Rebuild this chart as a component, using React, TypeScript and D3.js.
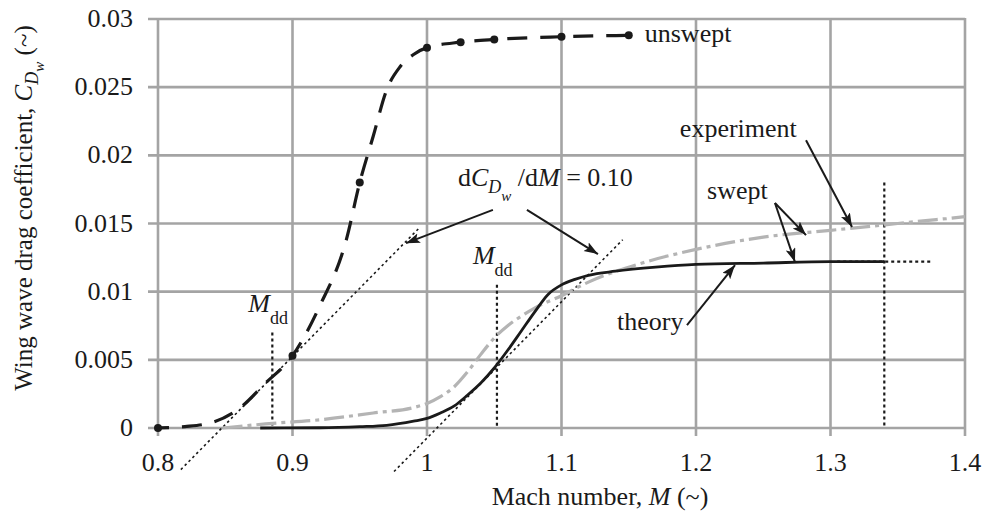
import React from "react";
import * as d3 from "d3";

// Wave drag of an unswept and a swept wing versus Mach number

const machTicks = [0.8, 0.9, 1.0, 1.1, 1.2, 1.3, 1.4];
const machTickLabels = ["0.8", "0.9", "1", "1.1", "1.2", "1.3", "1.4"];
const cdTicks = [0, 0.005, 0.01, 0.015, 0.02, 0.025, 0.03];
const cdTickLabels = ["0", "0.005", "0.01", "0.015", "0.02", "0.025", "0.03"];

// Unswept wing (dashed, with marked points)
const unsweptMach = [0.8, 0.82, 0.84, 0.86, 0.88, 0.9, 0.92, 0.94, 0.95, 0.96, 0.97, 0.98, 0.99, 1.0, 1.025, 1.05, 1.1, 1.15];
const unsweptCd = [0, 0.0001, 0.0004, 0.0014, 0.0033, 0.0053, 0.0089, 0.0138, 0.018, 0.0214, 0.0248, 0.0265, 0.0274, 0.0279, 0.0283, 0.0285, 0.0287, 0.0288];
const unsweptMarked = [true, false, false, false, false, true, false, false, true, false, false, false, false, true, true, true, true, true];

// Swept wing, theory (solid)
const theoryMach = [0.876, 0.92, 0.95, 0.97, 0.99, 1.0, 1.01, 1.02, 1.03, 1.04, 1.05, 1.06, 1.07, 1.08, 1.09, 1.1, 1.11, 1.12, 1.14, 1.17, 1.2, 1.25, 1.3, 1.34];
const theoryCd = [0, 0.00002, 0.0001, 0.0002, 0.0005, 0.0007, 0.0011, 0.0016, 0.0024, 0.0033, 0.0044, 0.0057, 0.0071, 0.0085, 0.0098, 0.0105, 0.0109, 0.0112, 0.0115, 0.0118, 0.012, 0.0121, 0.0122, 0.0122];

// Swept wing, experiment (dash-dot)
const expMach = [0.848, 0.88, 0.92, 0.96, 0.99, 1.0, 1.01, 1.02, 1.03, 1.04, 1.05, 1.06, 1.07, 1.08, 1.1, 1.12, 1.16, 1.2, 1.25, 1.3, 1.35, 1.4];
const expCd = [0, 0.0003, 0.0006, 0.0011, 0.0015, 0.0018, 0.0023, 0.003, 0.0041, 0.0054, 0.0066, 0.0075, 0.0082, 0.0088, 0.0097, 0.0107, 0.0121, 0.0131, 0.014, 0.0145, 0.015, 0.0155];

// Tangent lines of slope dCD/dM = 0.10
const tangentSlope = 0.1;
const tangentZeroMach = [0.8475, 1.0074];
const tangentFromMach = [0.817, 0.9755];
const tangentToMach = [0.995, 1.1455];

// Drag-divergence Mach numbers
const mddMach = [0.885, 1.052];
const mddTopCd = [0.007, 0.0105];

// Limit markers at the right end of the theory curve
const limitMach = 1.34;
const limitTopCd = 0.018;
const limitCd = 0.0122;
const limitFromMach = 1.305;
const limitToMach = 1.375;

// Annotation arrows [fromMach, fromCd, toMach, toCd]
const arrows: [number, number, number, number][] = [
  [1.049, 0.016, 0.9844, 0.01356],
  [1.0743, 0.016, 1.1271, 0.01276],
  [1.2818, 0.0211, 1.316, 0.01474],
  [1.2587, 0.0165, 1.2818, 0.01415],
  [1.2587, 0.0165, 1.2736, 0.01217],
  [1.1933, 0.00755, 1.229, 0.01195],
];

const W = 983;
const H = 515;
const FONT = "'Liberation Serif', 'Times New Roman', Times, serif";
const INK = "#1a1a1a";
const GRID = "#a4a4a4";
const FS = 26;

export default function App() {
  const x = d3.scaleLinear().domain([0.8, 1.4]).range([158, 965]);
  const y = d3.scaleLinear().domain([0, 0.03]).range([428, 19]);

  const line = d3
    .line<[number, number]>()
    .x((d) => x(d[0]))
    .y((d) => y(d[1]))
    .curve(d3.curveMonotoneX);

  const unsweptPts = unsweptMach.map((m, i) => [m, unsweptCd[i]] as [number, number]);
  const theoryPts = theoryMach.map((m, i) => [m, theoryCd[i]] as [number, number]);
  const expPts = expMach.map((m, i) => [m, expCd[i]] as [number, number]);

  const last = unsweptPts[unsweptPts.length - 1];

  return (
    <svg
      width={W}
      height={H}
      style={{ position: "absolute", left: 0, top: 0, background: "#fff" }}
      fontFamily={FONT}
      fill={INK}
    >
      <defs>
        <marker
          id="head"
          markerUnits="userSpaceOnUse"
          markerWidth={16}
          markerHeight={12}
          refX={14}
          refY={5}
          orient="auto"
        >
          <path d="M0,0 L14,5 L0,10 L3,5 Z" fill={INK} />
        </marker>
      </defs>

      {/* grid */}
      <g stroke={GRID} strokeWidth={2.6}>
        {cdTicks.map((t) => (
          <line key={"h" + t} x1={148} x2={x(1.4)} y1={y(t)} y2={y(t)} />
        ))}
        {machTicks.map((t) => (
          <line key={"v" + t} x1={x(t)} x2={x(t)} y1={y(0.03) - 1} y2={y(0) + 8} />
        ))}
      </g>

      {/* tick labels */}
      <g fontSize={FS}>
        {cdTicks.map((t, i) => (
          <text key={"yl" + t} x={133} y={y(t) + 8} textAnchor="end">
            {cdTickLabels[i]}
          </text>
        ))}
        {machTicks.map((t, i) => (
          <text key={"xl" + t} x={x(t)} y={471} textAnchor="middle">
            {machTickLabels[i]}
          </text>
        ))}
      </g>

      {/* axis titles */}
      <text x={600} y={505} fontSize={FS} textAnchor="middle">
        Mach number, <tspan fontStyle="italic">M</tspan> (~)
      </text>
      <text transform="translate(32,208) rotate(-90)" fontSize={25} textAnchor="middle">
        Wing wave drag coefficient,{" "}
        <tspan fontStyle="italic">C</tspan>
        <tspan fontStyle="italic" fontSize={18} dy={6}>D</tspan>
        <tspan fontStyle="italic" fontSize={15} dy={6}>w</tspan>
        <tspan dy={-12}> (~)</tspan>
      </text>

      {/* tangent lines */}
      <g stroke={INK} strokeWidth={1.6} strokeDasharray="2.5,3" fill="none">
        {tangentZeroMach.map((m0, i) => (
          <line
            key={"tg" + i}
            x1={x(tangentFromMach[i])}
            y1={y(tangentSlope * (tangentFromMach[i] - m0))}
            x2={x(tangentToMach[i])}
            y2={y(tangentSlope * (tangentToMach[i] - m0))}
          />
        ))}
      </g>

      {/* Mdd and limit markers */}
      <g stroke={INK} strokeWidth={2.2} strokeDasharray="3,3" fill="none">
        {mddMach.map((m, i) => (
          <line key={"mdd" + i} x1={x(m)} x2={x(m)} y1={y(mddTopCd[i])} y2={y(0)} />
        ))}
        <line x1={x(limitMach)} x2={x(limitMach)} y1={y(limitTopCd)} y2={y(0)} />
        <line x1={x(limitFromMach)} x2={x(limitToMach)} y1={y(limitCd)} y2={y(limitCd)} />
      </g>

      {/* experiment */}
      <path
        d={line(expPts) ?? ""}
        fill="none"
        stroke="#b4b4b4"
        strokeWidth={3.2}
        strokeDasharray="20,5,4,5"
      />

      {/* theory */}
      <path d={line(theoryPts) ?? ""} fill="none" stroke={INK} strokeWidth={2.8} />

      {/* unswept */}
      <path
        d={line(unsweptPts) ?? ""}
        fill="none"
        stroke={INK}
        strokeWidth={3.2}
        strokeDasharray="20,13"
        strokeDashoffset={-24}
      />
      {unsweptPts
        .filter((_, i) => unsweptMarked[i])
        .map((p, i) => (
          <circle key={"dot" + i} cx={x(p[0])} cy={y(p[1])} r={4} fill={INK} />
        ))}

      {/* arrows */}
      <g stroke={INK} strokeWidth={2} fill="none">
        {arrows.map((a, i) => (
          <line key={"ar" + i} x1={x(a[0])} y1={y(a[1])} x2={x(a[2])} y2={y(a[3])} markerEnd="url(#head)" />
        ))}
      </g>

      {/* labels */}
      <g fontSize={FS}>
        <text x={x(last[0]) + 16} y={y(last[1]) + 7}>unswept</text>
        <text x={x(1.188)} y={y(0.02133)}>experiment</text>
        <text x={x(1.2082)} y={y(0.01679)}>swept</text>
        <text x={x(1.1413)} y={y(0.00718)}>theory</text>
        <text x={x(1.023)} y={y(0.01774)}>
          d<tspan fontStyle="italic">C</tspan>
          <tspan fontStyle="italic" fontSize={18} dy={7}>D</tspan>
          <tspan fontStyle="italic" fontSize={15} dy={8}>w</tspan>
          <tspan dy={-15}> /d</tspan>
          <tspan fontStyle="italic">M</tspan> = 0.10
        </text>
        {mddMach.map((m, i) => (
          <text key={"ml" + i} x={x(m) - 24} y={y(mddTopCd[i]) - 21}>
            <tspan fontStyle="italic">M</tspan>
            <tspan fontSize={18} dy={12}>dd</tspan>
          </text>
        ))}
      </g>
    </svg>
  );
}
